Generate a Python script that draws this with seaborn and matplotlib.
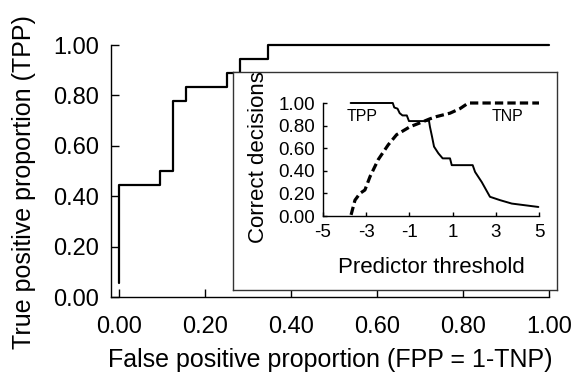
import matplotlib
matplotlib.use("Agg")
import matplotlib.pyplot as plt
import seaborn as sns
import pandas as pd

# ROC curve (main panel), step-post points
fpp = [0.0, 0.0, 0.095, 0.125, 0.155, 0.251, 0.281, 0.347, 1.0]
tpp = [0.056, 0.444, 0.5, 0.778, 0.833, 0.889, 0.944, 1.0, 1.0]
main_ticks = [0.0, 0.2, 0.4, 0.6, 0.8, 1.0]
main_ticklabels = ["0.00", "0.20", "0.40", "0.60", "0.80", "1.00"]

# inset: correct decisions vs predictor threshold
tpp_thr = [-3.72, -1.77, -1.70, -1.55, -1.45, -1.32, -1.12, -1.02, -0.20, -0.10,
           -0.05, 0.05, 0.14, 0.34, 0.54, 0.88, 0.96, 1.93, 2.04, 2.35, 2.73,
           3.20, 3.74, 4.97]
tpp_val = [1.0, 1.0, 0.96, 0.95, 0.91, 0.89, 0.89, 0.84, 0.84, 0.85,
           0.79, 0.70, 0.614, 0.555, 0.51, 0.51, 0.45, 0.45, 0.39, 0.30, 0.17,
           0.14, 0.11, 0.08]
tnp_thr = [-3.70, -3.52, -3.29, -3.06, -2.82, -2.44, -1.98, -1.59, -0.97, -0.43,
           -0.05, 0.26, 0.88, 1.34, 1.73, 5.0]
tnp_val = [0.01, 0.14, 0.20, 0.23, 0.35, 0.50, 0.63, 0.72, 0.79, 0.83,
           0.86, 0.88, 0.91, 0.95, 1.0, 1.0]
inset_xticks = [-5, -3, -1, 1, 3, 5]
inset_yticks = [0.0, 0.2, 0.4, 0.6, 0.8, 1.0]
inset_yticklabels = ["0.00", "0.20", "0.40", "0.60", "0.80", "1.00"]

sns.set_theme(style="ticks")
plt.rcParams["font.family"] = ["Liberation Sans", "DejaVu Sans"]
plt.rcParams["axes.linewidth"] = 1.0

W, H = 571, 372
fig = plt.figure(figsize=(W / 100, H / 100), dpi=100)
fig.patch.set_facecolor("white")


def px_axes(x0, x1, ytop, ybot):
    return [x0 / W, 1 - ybot / H, (x1 - x0) / W, (ybot - ytop) / H]


# main axes
ax = fig.add_axes(px_axes(111, 549, 45, 297))
df_roc = pd.DataFrame({"FPP": fpp, "TPP": tpp})
sns.lineplot(data=df_roc, x="FPP", y="TPP", ax=ax, sort=False, estimator=None,
             drawstyle="steps-post", color="black", lw=1.6, clip_on=False)
ax.set_xlim(-0.0186, 1.0)
ax.set_ylim(0, 1)
ax.set_xticks(main_ticks)
ax.set_xticklabels(main_ticklabels)
ax.set_yticks(main_ticks)
ax.set_yticklabels(main_ticklabels)
ax.tick_params(direction="in", length=6, width=1, labelsize=17, colors="black")
ax.tick_params(axis="x", pad=14)
ax.tick_params(axis="y", pad=8.5)
for s in ["top", "right"]:
    ax.spines[s].set_visible(False)
for s in ["left", "bottom"]:
    ax.spines[s].set_color("black")
ax.set_xlabel("False positive proportion (FPP = 1-TNP)", fontsize=18, color="black")
ax.set_ylabel("True positive proportion (TPP)", fontsize=18, color="black")
ax.xaxis.set_label_coords(0.5, -0.251)
ax.xaxis.label.set_verticalalignment("center")
ax.yaxis.set_label_coords(-0.198, 0.458)
ax.yaxis.label.set_verticalalignment("center")

# inset box
box = fig.add_axes(px_axes(233, 557, 72, 290))
box.set_xticks([])
box.set_yticks([])
box.set_facecolor("white")
for s in box.spines.values():
    s.set_visible(True)
    s.set_color("#333333")
    s.set_linewidth(1.0)

# inset axes
ia = fig.add_axes(px_axes(323, 539, 103, 216))
ia.patch.set_alpha(0)
df_tpp = pd.DataFrame({"thr": tpp_thr, "val": tpp_val})
df_tnp = pd.DataFrame({"thr": tnp_thr, "val": tnp_val})
sns.lineplot(data=df_tpp, x="thr", y="val", ax=ia, sort=False, estimator=None,
             color="black", lw=1.4, clip_on=False)
sns.lineplot(data=df_tnp, x="thr", y="val", ax=ia, sort=False, estimator=None,
             color="black", lw=2.3, dashes=False, linestyle=(0, (2.6, 1.3)),
             clip_on=False)
ia.set_xlim(-5, 5)
ia.set_ylim(0, 1)
ia.set_xticks(inset_xticks)
ia.set_xticklabels([str(t) for t in inset_xticks])
ia.set_yticks(inset_yticks)
ia.set_yticklabels(inset_yticklabels)
ia.tick_params(direction="in", length=3, width=1, labelsize=13.5, colors="black")
ia.tick_params(axis="x", pad=5.5)
ia.tick_params(axis="y", pad=5.5)
for s in ["top", "right"]:
    ia.spines[s].set_visible(False)
for s in ["left", "bottom"]:
    ia.spines[s].set_color("black")
ia.set_xlabel("Predictor threshold", fontsize=16, color="black")
ia.set_ylabel("Correct decisions", fontsize=16, color="black")
ia.xaxis.set_label_coords(0.503, -0.455)
ia.xaxis.label.set_verticalalignment("center")
ia.yaxis.set_label_coords(-0.299, 0.522)
ia.yaxis.label.set_verticalalignment("center")
ia.text(-3.19, 0.88, "TPP", fontsize=11.5, ha="center", va="center", color="black")
ia.text(3.54, 0.88, "TNP", fontsize=11.5, ha="center", va="center", color="black")

fig.savefig("out.png", dpi=100, facecolor="white")
